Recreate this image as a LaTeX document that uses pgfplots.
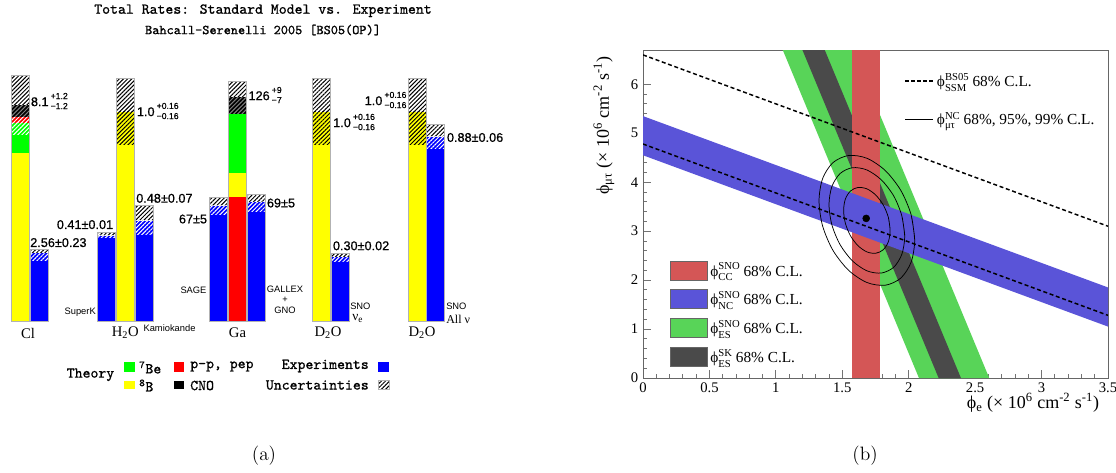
\documentclass[border=0pt]{standalone}
\usepackage{amsmath}
\usepackage{pgfplots}
\pgfplotsset{compat=1.18}
\usetikzlibrary{patterns.meta}
\usepackage{fontspec}
\newfontfamily\sans{Liberation Sans}[FakeBold=0.8]
\newfontfamily\sanslight{Liberation Sans}
\newfontfamily\tms{Liberation Serif}
\newfontfamily\ttb{lmmono10-regular.otf}[FakeBold=0.9]

\definecolor{cY}{RGB}{255,255,0}
\definecolor{cG}{RGB}{0,255,0}
\definecolor{cR}{RGB}{255,0,0}
\definecolor{cB}{RGB}{0,0,255}
\definecolor{bRed}{RGB}{212,86,86}
\definecolor{bBlue}{RGB}{90,84,216}
\definecolor{bGreen}{RGB}{88,212,88}
\definecolor{bDark}{RGB}{74,74,74}

\tikzset{
  htch/.style={postaction={pattern={Lines[angle=45,distance=2.2pt,line width=0.75pt]},pattern color=#1}},
  hW/.style={fill=white,draw=none,htch=black},
  hY/.style={fill=cY,draw=none,htch=black},
  hK/.style={fill=black,draw=none,htch=gray},
  hR/.style={fill=cR,draw=none,htch=white},
  hG/.style={fill=cG,draw=none,htch=white},
  hB/.style={fill=cB,draw=none,htch=white},
  sY/.style={fill=cY,draw=none},
  sG/.style={fill=cG,draw=none},
  sR/.style={fill=cR,draw=none},
  sB/.style={fill=cB,draw=none},
  sK/.style={fill=black,draw=none},
  lbl/.style={inner sep=0pt},
  num/.style={inner sep=0pt,font=\sans\fontsize{9.5}{11}\selectfont},
  sml/.style={inner sep=0pt,font=\sanslight\fontsize{7}{8}\selectfont},
  cat/.style={inner sep=0pt,font=\tms\fontsize{11}{13}\selectfont},
  leg/.style={inner sep=0pt,font=\ttb\fontsize{11.3}{13}\selectfont},
}
\newcommand\seg[5]{\addplot[#5] coordinates {(#1,#3) (#2,#3) (#2,#4) (#1,#4)} -- cycle;}
\newcommand\outl[4]{\addplot[draw=gray!60,line width=0.6pt] coordinates {(#1,#3) (#2,#3) (#2,#4) (#1,#4)} -- cycle;}
\newcommand\errs[2]{\,\raisebox{-2.2pt}{\fontsize{6.5}{6.5}\selectfont\shortstack[l]{#1\\#2}}}
\newcommand\supsub[2]{\raisebox{-3.5pt}{\fontsize{8}{9}\selectfont\shortstack[l]{#1\\#2}}}

\begin{document}
\begin{tikzpicture}
\useasboundingbox (0,0) rectangle (837pt,354pt);
% ---------------- panel (a): pixel-coordinate canvas ----------------
\begin{axis}[at={(418.5pt,177pt)}, anchor=center, scale only axis,
  width=837pt, height=354pt, xmin=0, xmax=1116, ymin=0, ymax=472,
  y dir=reverse, hide axis, clip=false]
% Cl
\seg{11}{29}{75}{105}{hW}
\seg{11}{29}{105}{117.3}{hK}
\seg{11}{29}{117.3}{122.7}{hR}
\seg{11}{29}{122.7}{135}{hG}
\seg{11}{29}{135}{153.3}{sG}
\seg{11}{29}{153.3}{321}{sY}
\outl{11}{29}{75}{321}
\seg{30}{48.3}{249.3}{253.3}{hW}
\seg{30}{48.3}{253.3}{260.7}{hB}
\seg{30}{48.3}{260.7}{321}{sB}
\outl{30}{48.3}{249.3}{321}
% SuperK
\seg{97.3}{115}{232}{235.7}{hW}
\seg{97.3}{115}{235.7}{237.5}{hB}
\seg{97.3}{115}{237.5}{321}{sB}
\outl{97.3}{115}{232}{321}
% H2O theory
\seg{116.7}{134}{78.3}{111.7}{hW}
\seg{116.7}{134}{111.7}{145}{hY}
\seg{116.7}{134}{145}{321}{sY}
\outl{116.7}{134}{78.3}{321}
% Kamiokande
\seg{135.3}{153}{205.7}{220.7}{hW}
\seg{135.3}{153}{220.7}{235}{hB}
\seg{135.3}{153}{235}{321}{sB}
\outl{135.3}{153}{205.7}{321}
% SAGE
\seg{209}{227}{197.3}{205.7}{hW}
\seg{209}{227}{205.7}{215}{hB}
\seg{209}{227}{215}{321}{sB}
\outl{209}{227}{197.3}{321}
% Ga theory
\seg{228.7}{246}{81}{97.3}{hW}
\seg{228.7}{246}{97.3}{114}{hK}
\seg{228.7}{246}{114}{172.7}{sG}
\seg{228.7}{246}{172.7}{197.3}{sY}
\seg{228.7}{246}{197.3}{321}{sR}
\outl{228.7}{246}{81}{321}
% GALLEX
\seg{247.7}{265}{194}{202.3}{hW}
\seg{247.7}{265}{202.3}{211.7}{hB}
\seg{247.7}{265}{211.7}{321}{sB}
\outl{247.7}{265}{194}{321}
% D2O nu_e
\seg{312.7}{330.3}{78.3}{111.7}{hW}
\seg{312.7}{330.3}{111.7}{145}{hY}
\seg{312.7}{330.3}{145}{321}{sY}
\outl{312.7}{330.3}{78.3}{321}
\seg{331.7}{349}{253.3}{257.3}{hW}
\seg{331.7}{349}{257.3}{261.7}{hB}
\seg{331.7}{349}{261.7}{321}{sB}
\outl{331.7}{349}{253.3}{321}
% D2O all
\seg{408.3}{426}{78.3}{111.7}{hW}
\seg{408.3}{426}{111.7}{145}{hY}
\seg{408.3}{426}{145}{321}{sY}
\outl{408.3}{426}{78.3}{321}
\seg{426.7}{444.3}{124}{136.7}{hW}
\seg{426.7}{444.3}{136.7}{149.3}{hB}
\seg{426.7}{444.3}{149.3}{321}{sB}
\outl{426.7}{444.3}{124}{321}
% legend squares
\seg{124}{135}{362.3}{371.7}{sG}
\seg{124}{135}{380.7}{389.3}{sY}
\seg{174}{184.3}{362.3}{371.7}{sR}
\seg{174}{184.3}{380.7}{389.3}{sK}
\seg{378.3}{389.3}{362.3}{371.7}{sB}
\seg{378.3}{389.3}{380.7}{389.3}{hW}
\outl{378.3}{389.3}{380.7}{389.3}
% titles
\node[lbl,font=\ttb\fontsize{11.3}{13}\selectfont] at (axis cs:263,10.7) {Total Rates: Standard Model vs. Experiment};
\node[lbl,font=\ttb\fontsize{10.2}{12}\selectfont] at (axis cs:263,30) {Bahcall-Serenelli 2005 [BS05(OP)]};
% value labels
\node[num,anchor=west] at (axis cs:30.7,101) {8.1\errs{+1.2}{−1.2}};
\node[num,anchor=west] at (axis cs:136.7,111) {1.0\errs{+0.16}{−0.16}};
\node[num,anchor=west] at (axis cs:248.3,95) {126\errs{+9}{−7}};
\node[num,anchor=west] at (axis cs:333,122) {1.0\errs{+0.16}{−0.16}};
\node[num,anchor=east] at (axis cs:406.7,100) {1.0\errs{+0.16}{−0.16}};
\node[num,anchor=west] at (axis cs:446.7,137.5) {0.88±0.06};
\node[num,anchor=west] at (axis cs:30,242.6) {2.56±0.23};
\node[num] at (axis cs:85,224.6) {0.41±0.01};
\node[num,anchor=west] at (axis cs:136,198.3) {0.48±0.07};
\node[num,anchor=east] at (axis cs:207.3,219) {67±5};
\node[num,anchor=west] at (axis cs:266.7,203) {69±5};
\node[num,anchor=west] at (axis cs:332.7,245.8) {0.30±0.02};
% experiment names
\node[sml,anchor=east] at (axis cs:96,312) {SuperK};
\node[sml,anchor=west] at (axis cs:143.3,328.3) {Kamiokande};
\node[sml,anchor=east] at (axis cs:206.7,290) {SAGE};
\node[sml] at (axis cs:285,289.5) {GALLEX};
\node[sml] at (axis cs:285,300) {+};
\node[sml] at (axis cs:285,310.5) {GNO};
\node[sml,anchor=west] at (axis cs:350,305.8) {SNO};
\node[lbl,anchor=west,font=\tms\fontsize{10}{12}\selectfont] at (axis cs:352,318) {ν\textsubscript{e}};
\node[sml,anchor=west] at (axis cs:446,305.8) {SNO};
\node[lbl,anchor=west,font=\tms\fontsize{9}{11}\selectfont] at (axis cs:446,319.5) {All ν};
% categories
\node[cat] at (axis cs:28,333) {Cl};
\node[cat] at (axis cs:125.3,333) {H\textsubscript{2}O};
\node[cat] at (axis cs:237.5,333) {Ga};
\node[cat] at (axis cs:328,333) {D\textsubscript{2}O};
\node[cat] at (axis cs:422,333) {D\textsubscript{2}O};
% legend text
\node[leg] at (axis cs:90.5,374.7) {Theory};
\node[leg,anchor=west] at (axis cs:139,367.5) {\textsuperscript{7}Be};
\node[leg,anchor=west] at (axis cs:139,385.5) {\textsuperscript{8}B};
\node[leg,anchor=west] at (axis cs:190,366.5) {p-p, pep};
\node[leg,anchor=west] at (axis cs:190,385.5) {CNO};
\node[leg,anchor=east] at (axis cs:369,366) {Experiments};
\node[leg,anchor=east] at (axis cs:369,385) {Uncertainties};
% captions
\node[lbl,font=\fontsize{14.5}{17}\selectfont] at (axis cs:264,456) {(a)};
\node[lbl,font=\fontsize{14.5}{17}\selectfont] at (axis cs:865,456) {(b)};
\end{axis}

% ---------------- panel (b) ----------------
\begin{axis}[at={(482.25pt,70.5pt)}, anchor=south west, scale only axis,
  width=348.75pt, height=246pt,
  xmin=0, xmax=3.5, ymin=0, ymax=6.7,
  xtick={0,0.5,...,3.5}, ytick={0,1,...,6},
  minor x tick num=4, minor y tick num=4,
  tick align=inside, tick pos=left,
  major tick length=6pt, minor tick length=3pt,
  axis line style={draw=black!60,line width=0.6pt},
  every tick/.style={draw=black!55,line width=0.6pt},
  /pgf/number format/assume math mode=true,
  ticklabel style={font=\tms\fontsize{11}{13}\selectfont},
  xlabel={ϕ\textsubscript{e} (× 10\textsuperscript{6} cm\textsuperscript{-2} s\textsuperscript{-1})},
  ylabel={ϕ\textsubscript{μτ} (× 10\textsuperscript{6} cm\textsuperscript{-2} s\textsuperscript{-1})},
  xlabel style={at={(rel axis cs:0.991,-0.075)}, anchor=east, font=\tms\fontsize{13.5}{15}\selectfont},
  ylabel style={at={(rel axis cs:-0.084,0.77)}, anchor=center, font=\tms\fontsize{13.5}{15}\selectfont},
  legend style={at={(rel axis cs:0.057,0.361)}, anchor=north west, draw=none, fill=none,
    inner sep=0pt, row sep=6pt, font=\tms\fontsize{11.5}{13}\selectfont},
  legend cell align=left,
  legend image code/.code={\draw[#1,draw=black!60,line width=0.4pt] (0pt,-7.1pt) rectangle (28pt,7.1pt);},
]
\addlegendimage{fill=bRed}
\addlegendentry{ϕ\supsub{SNO}{CC} 68\% C.L.}
\addlegendimage{fill=bBlue}
\addlegendentry{ϕ\supsub{SNO}{NC} 68\% C.L.}
\addlegendimage{fill=bGreen}
\addlegendentry{ϕ\supsub{SNO}{ES} 68\% C.L.}
\addlegendimage{fill=bDark}
\addlegendentry{ϕ\supsub{SK}{ES} 68\% C.L.}

\addplot[fill=bGreen,draw=none,forget plot] coordinates {(2.077,0) (2.606,0) (1.581,6.7) (1.052,6.7)} -- cycle;
\addplot[fill=bDark,draw=none,forget plot] coordinates {(2.225,0) (2.393,0) (1.368,6.7) (1.200,6.7)} -- cycle;
\addplot[fill=bRed,draw=none,forget plot] coordinates {(1.575,0) (1.785,0) (1.785,6.7) (1.575,6.7)} -- cycle;
\addplot[fill=bBlue,draw=none,forget plot] coordinates {(0,5.35) (3.5,1.85) (3.5,1.05) (0,4.55)} -- cycle;
\addplot[black,line width=1.1pt,dash pattern=on 3pt off 2pt,forget plot] coordinates {(0,6.6) (3.5,3.1)};
\addplot[black,line width=1.1pt,dash pattern=on 3pt off 2pt,forget plot] coordinates {(0,4.78) (3.5,1.28)};
\addplot[black,line width=0.55pt,smooth,forget plot] coordinates {
(1.860,3.017) (1.847,3.279) (1.809,3.532) (1.752,3.737) (1.685,3.864) (1.618,3.892)
(1.561,3.819) (1.523,3.654) (1.510,3.423) (1.523,3.161) (1.561,2.908) (1.618,2.703)
(1.685,2.576) (1.752,2.548) (1.809,2.621) (1.847,2.786) (1.860,3.017) (1.847,3.279)};
\addplot[black,line width=0.55pt,smooth,forget plot] coordinates {
(1.970,2.895) (1.948,3.314) (1.887,3.719) (1.794,4.047) (1.685,4.250) (1.576,4.296)
(1.484,4.178) (1.422,3.914) (1.400,3.545) (1.422,3.126) (1.484,2.721) (1.576,2.393)
(1.685,2.190) (1.794,2.144) (1.887,2.262) (1.948,2.526) (1.970,2.895) (1.948,3.314)};
\addplot[black,line width=0.55pt,smooth,forget plot] coordinates {
(2.045,2.820) (2.018,3.336) (1.940,3.834) (1.823,4.239) (1.685,4.489) (1.547,4.545)
(1.430,4.400) (1.352,4.075) (1.325,3.620) (1.352,3.104) (1.430,2.606) (1.547,2.201)
(1.685,1.951) (1.823,1.895) (1.940,2.040) (2.018,2.365) (2.045,2.820) (2.018,3.336)};
\addplot[only marks,mark=*,mark size=2.6pt,black,forget plot] coordinates {(1.68,3.26)};
\end{axis}

% upper-right legend overlay
\begin{axis}[at={(482.25pt,70.5pt)}, anchor=south west, scale only axis,
  width=348.75pt, height=246pt, xmin=0, xmax=1, ymin=0, ymax=1, hide axis,
  legend style={at={(rel axis cs:0.561,0.938)}, anchor=north west, draw=none, fill=none,
    inner sep=0pt, row sep=14pt, font=\tms\fontsize{11.5}{13}\selectfont},
  legend cell align=left,
  legend image code/.code={\draw[#1] (0pt,0pt) -- (21pt,0pt);},
]
\addlegendimage{black,line width=1.6pt,dash pattern=on 3pt off 1.5pt}
\addlegendentry{ϕ\supsub{BS05}{SSM} 68\% C.L.}
\addlegendimage{black,line width=0.5pt}
\addlegendentry{ϕ\supsub{NC}{μτ} 68\%, 95\%, 99\% C.L.}
\end{axis}
\end{tikzpicture}
\end{document}
